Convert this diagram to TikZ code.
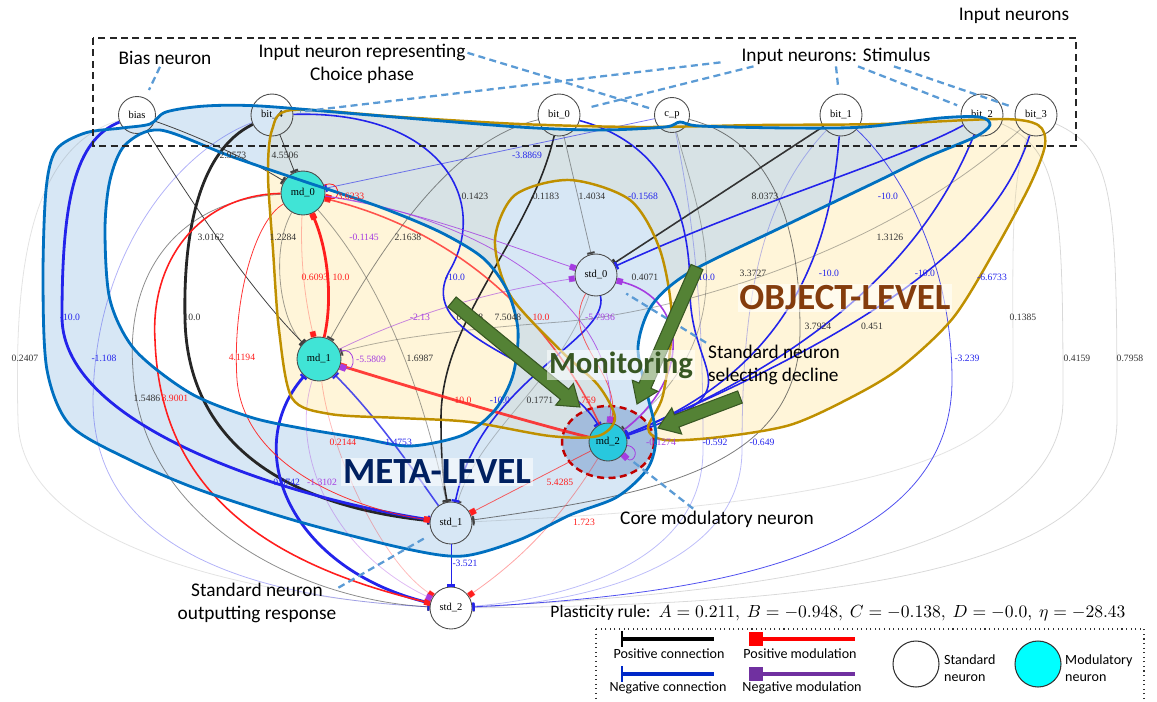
\documentclass[tikz,border=0pt]{standalone}
\usepackage{fontspec}
\setmainfont{Carlito}
\newfontfamily\tnr{Liberation Serif}
\usetikzlibrary{arrows.meta,calc}

\definecolor{negblue}{RGB}{35,35,235}
\definecolor{posred}{RGB}{255,30,30}
\definecolor{negpurp}{RGB}{165,60,225}
\definecolor{regblue}{RGB}{0,112,192}
\definecolor{regblueF}{RGB}{189,215,238}
\definecolor{reggold}{RGB}{191,144,0}
\definecolor{reggoldF}{RGB}{255,242,204}
\definecolor{notecol}{RGB}{91,155,213}
\definecolor{modcol}{RGB}{64,228,214}
\definecolor{legcyan}{RGB}{0,255,255}
\definecolor{arrowF}{RGB}{84,130,53}
\definecolor{arrowD}{RGB}{56,87,35}
\definecolor{objcol}{RGB}{132,60,12}
\definecolor{metacol}{RGB}{0,32,96}
\definecolor{ringcol}{RGB}{192,0,0}
\definecolor{legpurp}{RGB}{112,48,160}
\definecolor{legblue}{RGB}{0,40,200}

% block arrow from #1 (tail) to #2 (tip)
\newcommand{\garr}[2]{%
  \coordinate (hd) at ($(#2)!0.4cm!(#1)$);
  \filldraw[fill=arrowF, draw=arrowD, line width=0.6pt]
    ($(#1)!0.13cm!90:(#2)$) -- ($(hd)!0.13cm!-90:(#1)$) -- ($(hd)!0.28cm!-90:(#1)$)
    -- (#2) -- ($(hd)!0.28cm!90:(#1)$) -- ($(hd)!0.13cm!90:(#1)$)
    -- ($(#1)!0.13cm!-90:(#2)$) -- cycle;}

\begin{document}
\begin{tikzpicture}[x=0.02cm, y=-0.02cm,
    stdn/.style={circle, draw=black!70, line width=0.5pt, minimum size=0.84cm, inner sep=0pt,
      font=\tnr\fontsize{6}{7}\selectfont},
    modn/.style={stdn, fill=modcol, minimum size=0.88cm},
    pc/.style={draw=black!75, -{Rectangle[length=1.3pt,width=4.5pt]}},
    nc/.style={draw=negblue, -{Rectangle[length=1.3pt,width=4.5pt]}},
    pm/.style={draw=posred, -{Square[length=3.5pt]}},
    nm/.style={draw=negpurp, -{Square[length=3.5pt]}},
    w1/.style={line width=0.45pt}, w2/.style={line width=0.9pt}, w3/.style={line width=1.6pt},
    wl/.style={font=\tnr\fontsize{5.5}{6}\selectfont, inner sep=0.5pt},
    note/.style={draw=notecol, line width=1.3pt, dash pattern=on 4pt off 2.5pt},
    notetxt/.style={font=\fontsize{11}{13.5}\selectfont, inner sep=1pt},
    biglbl/.style={font=\bfseries\fontsize{21}{24}\selectfont, fill=white, fill opacity=0.55,
      text opacity=1, inner sep=1pt},
    legtxt/.style={font=\fontsize{8}{9.5}\selectfont, inner sep=0.5pt}]
  \useasboundingbox (0,0) rectangle (1157,701);

  % regions
  \fill[reggoldF, fill opacity=0.75] plot[smooth cycle, tension=0.5] coordinates {
    (292,110) (400,117) (520,124) (640,127) (760,125) (880,124) (1000,119) (1038,125)
    (1045,145) (1030,185) (995,250) (953,318) (900,368) (850,398) (790,425) (720,437)
    (665,440) (648,428) (663,395) (672,320) (660,250) (630,200) (570,180) (515,195)
    (495,240) (510,295) (560,350) (598,385) (615,418) (598,436) (550,436) (470,422)
    (400,418) (330,414) (292,398) (279,330) (273,250) (268,175) (272,130)};
  \fill[regblueF, fill opacity=0.6, even odd rule]
    plot[smooth cycle, tension=0.5] coordinates {
    (122,128) (150,124) (166,112) (205,106) (260,106) (370,115) (519,127) (600,130) (665,127) (680,122)
    (700,126) (790,128) (864,127) (940,118) (980,117) (990,125) (975,137) (925,158)
    (880,180) (780,228) (690,272) (652,305) (638,347) (647,393) (656,435) (648,468)
    (617,497) (570,515) (519,540) (463,556) (407,549) (300,522) (200,490) (130,460)
    (70,425) (47,370) (43,280) (46,190) (56,150) (85,133)}
    plot[smooth cycle, tension=0.5] coordinates {
    (160,130) (230,156) (300,180) (380,207) (440,232) (483,258) (507,290) (518,330)
    (513,375) (495,410) (463,435) (410,446) (360,438) (300,428) (250,417) (190,393)
    (135,350) (110,300) (105,230) (110,180) (125,145)};
  \filldraw[fill={rgb,255:red,150;green,180;blue,218}, fill opacity=0.8, draw=ringcol,
    line width=1.4pt, dash pattern=on 4pt off 2.5pt] (608,442) ellipse [x radius=46, y radius=36];

  % neurons
  \node[stdn, minimum size=0.74cm] (bias) at (137,115) {bias};
  \node[stdn] (bit4) at (272,115) {bit\_4};
  \node[stdn] (bit0) at (559,115) {bit\_0};
  \node[stdn, minimum size=0.7cm] (cp) at (672,115) {c\_p};
  \node[stdn] (bit1) at (841,115) {bit\_1};
  \node[stdn] (bit2) at (982,115) {bit\_2};
  \node[stdn] (bit3) at (1036,115) {bit\_3};
  \node[modn] (md0) at (303,193) {md\_0};
  \node[modn] (md1) at (319,359) {md\_1};
  \node[stdn] (std0) at (596,275) {std\_0};
  \node[modn, fill={rgb,255:red,40;green,200;blue,222}, minimum size=0.76cm] (md2) at (608,442) {md\_2};
  \node[stdn] (std1) at (451,523) {std\_1};
  \node[stdn] (std2) at (451,608) {std\_2};

  % positive connections
  \draw[pc,w1] (bias) .. controls (195,135) and (250,160) .. (md0);
  \draw[pc,w1] (bit4) -- (md0);
  \draw[pc,w1] (bias) .. controls (190,200) and (250,290) .. (md1);
  \draw[pc,w3,draw=black!85] (bit4) .. controls (200,150) and (183,230) .. (185,320) .. controls (188,440) and (280,505) .. (std1);
  \draw[pc,w1,draw opacity=.6] (md0) .. controls (180,200) and (125,270) .. (133,370) .. controls (140,520) and (300,600) .. (std2);
  \draw[pc,w1,draw opacity=.5] (md0) .. controls (270,250) and (280,320) .. (md1);
  \draw[pc,w1,draw opacity=.6] (bit0) .. controls (450,140) and (380,250) .. (md1);
  \draw[pc,w2,draw=black!85] (bit0) .. controls (530,240) and (440,320) .. (441,420) .. controls (441,470) and (445,490) .. (std1);
  \draw[pc,w1,draw opacity=.5] (bit0) -- (std0);
  \draw[pc,w1,draw opacity=.7] (cp) .. controls (770,140) and (800,220) .. (800,330) .. controls (800,470) and (650,495) .. (std1);
  \draw[pc,w2,draw=black!80] (bit1) -- (std0);
  \draw[pc,w1,draw opacity=.4] (cp) .. controls (700,220) and (750,330) .. (md2);
  \draw[pc,w1,draw opacity=.4] (bit3) .. controls (900,240) and (700,310) .. (560,322) .. controls (450,330) and (380,340) .. (md1);
  \draw[pc,w1,draw opacity=.5] (md0) .. controls (380,280) and (420,380) .. (std1);
  \draw[pc,w1,draw opacity=.3] (std0) .. controls (560,380) and (480,430) .. (std1);
  \draw[pc,w1,draw opacity=.15] (bias) .. controls (20,150) and (15,300) .. (18,420) .. controls (20,560) and (300,600) .. (std2);
  \draw[pc,w1,draw opacity=.2] (bit2) .. controls (1060,150) and (1063,200) .. (1063,400) .. controls (1063,570) and (700,595) .. (std2);
  \draw[pc,w1,draw opacity=.2] (bit3) .. controls (1115,150) and (1117,200) .. (1117,420) .. controls (1117,580) and (800,605) .. (std2);
  \draw[pc,w1,draw opacity=.15] (bit3) .. controls (1010,180) and (1013,250) .. (1013,380) .. controls (1013,500) and (600,515) .. (std1);

  % negative connections
  \draw[nc,w3] (bias) .. controls (75,140) and (62,200) .. (62,317) .. controls (62,430) and (300,500) .. (std1);
  \draw[nc,w1,draw opacity=.35] (bit4) .. controls (180,150) and (95,250) .. (93,400) .. controls (93,570) and (300,600) .. (std2);
  \draw[nc,w3] (std2) .. controls (290,570) and (240,450) .. (md1);
  \draw[nc,w2,draw opacity=.8] (std1) .. controls (420,480) and (380,420) .. (md1);
  \draw[nc,w1,draw opacity=.6] (cp) -- (md0);
  \draw[nc,w2] (bit4) .. controls (440,110) and (490,200) .. (450,270) .. controls (410,340) and (560,360) .. (md2);
  \draw[nc,w2] (bit0) .. controls (670,145) and (690,220) .. (690,290) .. controls (690,380) and (760,390) .. (md2);
  \draw[nc,w2] (std0) .. controls (610,340) and (480,380) .. (std1);
  \draw[nc,w2] (bit2) .. controls (900,160) and (760,200) .. (std0);
  \draw[nc,w2] (bit2) .. controls (940,220) and (860,340) .. (md2);
  \draw[nc,w2] (bit3) .. controls (1000,230) and (900,320) .. (md2);
  \draw[nc,w2] (bit1) .. controls (830,250) and (790,370) .. (md2);
  \draw[nc,w1,draw opacity=.8] (bit1) .. controls (900,170) and (952,260) .. (952,380) .. controls (952,560) and (700,595) .. (std2);
  \draw[nc,w1,draw opacity=.3] (cp) .. controls (700,250) and (703,350) .. (703,450) .. controls (703,570) and (550,600) .. (std2);
  \draw[nc,w1,draw opacity=.3] (bit1) .. controls (760,200) and (742,300) .. (742,450) .. controls (742,575) and (560,605) .. (std2);
  \draw[nc,w1] (std1) -- (std2);

  % positive modulation
  \draw[pm,w1] (md0.20) .. controls +(25:0.35cm) and +(-15:0.35cm) .. (md0.-10);
  \draw[pm,w3] (md1) .. controls (333,300) and (328,250) .. (md0);
  \draw[pm,w1,draw opacity=.3] (md0) .. controls (300,260) and (305,300) .. (md1);
  \draw[pm,w2] (md0) .. controls (200,195) and (150,260) .. (155,340) .. controls (160,480) and (250,560) .. (std2);
  \draw[pm,w1,draw opacity=.9] (md0) .. controls (255,220) and (232,300) .. (237,380) .. controls (245,470) and (360,510) .. (std1);
  \draw[pm,w3,draw opacity=.85] (md2) .. controls (520,420) and (420,390) .. (md1);
  \draw[pm,w2,draw opacity=.75] (md2) .. controls (555,330) and (470,235) .. (md0);
  \draw[pm,w1,draw opacity=.7] (md2) -- (std1);
  \draw[pm,w1,draw opacity=.4] (md2) .. controls (560,520) and (520,560) .. (std2);
  \draw[pm,w1,draw opacity=.3] (md1) .. controls (330,450) and (380,560) .. (std2);
  \draw[pm,w1,draw opacity=.7] (std0) .. controls (560,340) and (620,370) .. (md2);

  % negative modulation
  \draw[nm,w1] (md1.20) .. controls +(20:0.35cm) and +(-20:0.35cm) .. (md1.-20);
  \draw[nm,w1,draw opacity=.6] (md1) .. controls (420,310) and (500,290) .. (std0);
  \draw[nm,w1,draw opacity=.8] (md0) .. controls (420,210) and (520,250) .. (std0);
  \draw[nm,w1,draw opacity=.8] (md0) .. controls (470,215) and (620,300) .. (md2);
  \draw[nm,w2] (md2) .. controls (690,380) and (690,300) .. (std0);
  \draw[nm,w1,draw opacity=.35] (md1) .. controls (290,450) and (330,550) .. (std2);
  \draw[nm,w1] (md2.-10) .. controls +(-10:0.3cm) and +(-45:0.3cm) .. (md2.-40);

  % region outlines
  \draw[reggold, line width=1.4pt] plot[smooth cycle, tension=0.5] coordinates {
    (292,110) (400,117) (520,124) (640,127) (760,125) (880,124) (1000,119) (1038,125)
    (1045,145) (1030,185) (995,250) (953,318) (900,368) (850,398) (790,425) (720,437)
    (665,440) (648,428) (663,395) (672,320) (660,250) (630,200) (570,180) (515,195)
    (495,240) (510,295) (560,350) (598,385) (615,418) (598,436) (550,436) (470,422)
    (400,418) (330,414) (292,398) (279,330) (273,250) (268,175) (272,130)};
  \draw[regblue, line width=1.6pt]
    plot[smooth cycle, tension=0.5] coordinates {
    (122,128) (150,124) (166,112) (205,106) (260,106) (370,115) (519,127) (600,130) (665,127) (680,122)
    (700,126) (790,128) (864,127) (940,118) (980,117) (990,125) (975,137) (925,158)
    (880,180) (780,228) (690,272) (652,305) (638,347) (647,393) (656,435) (648,468)
    (617,497) (570,515) (519,540) (463,556) (407,549) (300,522) (200,490) (130,460)
    (70,425) (47,370) (43,280) (46,190) (56,150) (85,133)}
    plot[smooth cycle, tension=0.5] coordinates {
    (160,130) (230,156) (300,180) (380,207) (440,232) (483,258) (507,290) (518,330)
    (513,375) (495,410) (463,435) (410,446) (360,438) (300,428) (250,417) (190,393)
    (135,350) (110,300) (105,230) (110,180) (125,145)};

  % weights
  \foreach \p/\t [count=\i] in {{(233,155)}/2.9573, {(285,155)}/4.5506, {(475,196)}/0.1423,
      {(546,196)}/0.1183, {(592,196)}/1.4034, {(765,196)}/8.0373, {(211,237)}/3.0162,
      {(283,237)}/1.2284, {(408,237)}/2.1638, {(890,237)}/1.3126, {(645,277)}/0.4071,
      {(753,273)}/3.3727, {(192,317)}/10.0, {(470,317)}/0.2038, {(508,317)}/7.5048,
      {(818,326)}/3.7924, {(872,326)}/0.451, {(1023,317)}/0.1385, {(25,358)}/0.2407,
      {(420,358)}/1.6987, {(1077,358)}/0.4159, {(1130,358)}/0.7958, {(147,398)}/1.5486,
      {(540,400)}/0.1771}
    \node[wl, text=black!80] (gw\i) at \p {\t};
  \foreach \p/\t [count=\i] in {{(527,155)}/-3.8869, {(643,196)}/-0.1568, {(888,196)}/-10.0,
      {(455,277)}/-10.0, {(705,277)}/-10.0, {(829,273)}/-10.0, {(925,273)}/-10.0,
      {(992,277)}/-6.6733, {(70,317)}/-10.0, {(104,358)}/-1.108, {(967,358)}/-3.239,
      {(500,400)}/-10.0, {(397,442)}/-1.4753, {(715,442)}/-0.592, {(762,442)}/-0.649,
      {(285,482)}/-0.8742, {(465,563)}/-3.521}
    \node[wl, text=negblue] (bw\i) at \p {\t};
  \foreach \p/\t [count=\i] in {{(351,196)}/3.6233, {(315,277)}/0.6093, {(341,277)}/10.0,
      {(541,317)}/10.0, {(242,357)}/4.1194, {(175,398)}/8.9001, {(463,400)}/10.0,
      {(585,400)}/2.759, {(343,442)}/0.2144, {(560,482)}/5.4285, {(584,522)}/1.723}
    \node[wl, text=posred] (rw\i) at \p {\t};
  \foreach \p/\t [count=\i] in {{(364,237)}/-0.1145, {(420,317)}/-2.13, {(600,317)}/-5.7936,
      {(371,359)}/-5.5809, {(322,482)}/-1.3102, {(661,442)}/-0.1274}
    \node[wl, text=negpurp] (pw\i) at \p {\t};

  % input box and notes
  \draw[black!85, line width=1.3pt, dash pattern=on 4pt off 2.5pt] (93,38) rectangle (1076,146);
  \node[notetxt] (tinput) at (1014,16) {Input neurons};
  \node[notetxt] (tbias) at (165,58) {Bias neuron};
  \node[notetxt, align=center] (tcp) at (362,64) {Input neuron representing\\Choice phase};
  \node[notetxt] (tstim) at (836,56) {Input neurons: Stimulus};
  \node[notetxt, align=left] (tsel) at (774,365) {Standard neuron\\selecting decline};
  \node[notetxt] (tcore) at (717,519) {Core modulatory neuron};
  \node[notetxt, align=center] (tout) at (257,603) {Standard neuron\\outputting response};

  \draw[note, shorten >=5pt] ([xshift=-0.1cm]tbias.south) -- (bias);
  \draw[note, shorten >=1pt] ([yshift=-0.22cm]tcp.north east) -- (cp);
  \draw[note, shorten >=4pt] ([xshift=-0.38cm,yshift=0.08cm]tstim.south west) -- (bit4);
  \draw[note, shorten >=6pt] ([xshift=0.28cm]tstim.south west) -- (bit0);
  \draw[note, shorten >=4pt] (tstim.south) -- (bit1);
  \draw[note, shorten >=3pt] ([xshift=0.44cm]tstim.south) -- (bit2);
  \draw[note, shorten >=3pt] ([xshift=1.16cm]tstim.south) -- (bit3);
  \draw[note, shorten >=8pt] (tsel.north west) -- (std0);
  \draw[note, shorten >=6pt] ([xshift=1.5cm]tcore.north west) -- (md2);
  \draw[note, shorten >=5pt] ([yshift=-0.14cm]tout.north east) -- (std1);

  % green arrows
  \coordinate (ga1s) at (452,302); \coordinate (ga1e) at (580,407);
  \coordinate (ga2s) at (697,267); \coordinate (ga2e) at (637,404);
  \coordinate (ga3s) at (740,397); \coordinate (ga3e) at (658,428);
  \garr{ga1s}{ga1e}
  \garr{ga2s}{ga2e}
  \garr{ga3s}{ga3e}

  % level labels
  \node[biglbl, text=objcol] (objl) at (845,298) {OBJECT-LEVEL};
  \node[biglbl, text=metacol] (metal) at (437,472) {META-LEVEL};
  \node[biglbl, text=arrowD, font=\bfseries\fontsize{17.5}{20}\selectfont] (monl) at (621,365) {Monitoring};

  % plasticity rule and legend
  \node[notetxt, font=\fontsize{10}{12}\selectfont] (prule) at (838,613) {Plasticity rule:\ \ $A=0.211,\ B=-0.948,\ C=-0.138,\ D=-0.0,\ \eta=-28.43$};
  \draw[black!80, line width=0.6pt, dotted] (596,629) rectangle (1144,712);
  \coordinate (lpc1) at (621,639); \coordinate (lpc2) at (714,639);
  \coordinate (lnc1) at (621,674); \coordinate (lnc2) at (714,674);
  \coordinate (lpm1) at (749,639); \coordinate (lpm2) at (855,639);
  \coordinate (lnm1) at (749,674); \coordinate (lnm2) at (855,674);
  \draw[black, line width=2.6pt, {Rectangle[length=1.2pt,width=9pt]}-] (lpc1) -- (lpc2);
  \draw[legblue, line width=2.6pt, {Rectangle[length=1.2pt,width=9pt]}-] (lnc1) -- (lnc2);
  \draw[red, line width=2.6pt, {Square[length=8pt]}-] (lpm1) -- (lpm2);
  \draw[legpurp, line width=2.6pt, {Square[length=8pt]}-] (lnm1) -- (lnm2);
  \node[legtxt] (lpct) at (669,654) {Positive connection};
  \node[legtxt] (lnct) at (668,688) {Negative connection};
  \node[legtxt] (lpmt) at (800,654) {Positive modulation};
  \node[legtxt] (lnmt) at (802,688) {Negative modulation};
  \node[circle, draw=black!80, line width=0.6pt, minimum size=0.92cm] (lstd) at (916,664) {};
  \node[legtxt, anchor=west, align=left] (lstdt) at (943,668) {Standard\\neuron};
  \node[circle, draw=black!80, line width=0.6pt, fill=legcyan, minimum size=0.92cm] (lmod) at (1038,664) {};
  \node[legtxt, anchor=west, align=left] (lmodt) at (1064,668) {Modulatory\\neuron};
\end{tikzpicture}
\end{document}
